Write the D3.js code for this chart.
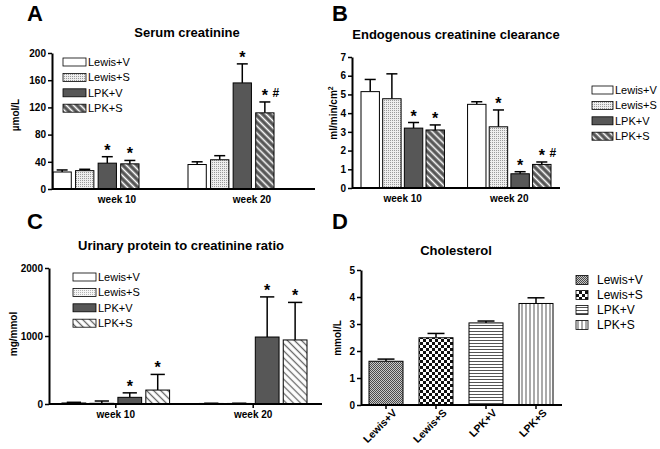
<!DOCTYPE html>
<html>
<head>
<meta charset="utf-8">
<script src="https://cdn.jsdelivr.net/npm/d3@7"></script>
<style>
  body { margin: 0; background: #fff; }
  svg { font-family: "Liberation Sans", Arial, sans-serif; }
  .axis .domain { stroke: #000; stroke-width: 2; }
  .axis .tick line { stroke: #000; stroke-width: 1.5; }
  .axis .tick text { font-size: 10px; font-weight: bold; fill: #000; }
</style>
</head>
<body>
<script>
// Four-panel figure: serum creatinine, clearance, UPCR, cholesterol

var WEEKS = ['week 10', 'week 20'];
var GROUPS = ['Lewis+V', 'Lewis+S', 'LPK+V', 'LPK+S'];

// A - serum creatinine (umol/L), rows = week
var serumMean = [[25, 27, 38, 37], [36, 43, 156, 112]];
var serumSem = [[3, 2, 9.5, 5], [4, 6, 28, 16]];
var serumMarks = [['', '', '*', '*'], ['', '', '*', '*#']];
var serumTicks = [0, 40, 80, 120, 160, 200];

// B - endogenous creatinine clearance (ml/min/cm2)
var clearMean = [[5.15, 4.77, 3.2, 3.1], [4.47, 3.27, 0.76, 1.26]];
var clearSem = [[0.65, 1.33, 0.3, 0.27], [0.14, 0.9, 0.11, 0.13]];
var clearMarks = [['', '', '*', '*'], ['', '*', '*', '*#']];
var clearTicks = [0, 1, 2, 3, 4, 5, 6, 7];

// C - urinary protein to creatinine ratio (mg/mmol)
var upcrMean = [[15, 10, 98, 205], [8, 8, 985, 942]];
var upcrSem = [[10, 34, 66, 230], [3, 3, 590, 552]];
var upcrMarks = [['', '', '*', '*'], ['', '', '*', '*']];
var upcrTicks = [0, 1000, 2000];

// D - cholesterol (mmol/L)
var cholMean = [1.62, 2.49, 3.04, 3.76];
var cholSem = [0.08, 0.16, 0.07, 0.21];
var cholTicks = [0, 1, 2, 3, 4, 5];

var svg = d3.select('body').append('svg')
    .attr('width', 660)
    .attr('height', 449);

// ============================================================================
// PATTERNS
// ============================================================================

var defs = svg.append('defs');

function dotPattern(id, bg, fg, size, cells) {
    var p = defs.append('pattern').attr('id', id)
        .attr('patternUnits', 'userSpaceOnUse')
        .attr('width', size).attr('height', size);
    p.append('rect').attr('width', size).attr('height', size).attr('fill', bg);
    cells.forEach(function(c) {
        p.append('rect').attr('x', c[0]).attr('y', c[1])
            .attr('width', c[2]).attr('height', c[2]).attr('fill', fg);
    });
}

function linePattern(id, bg, fg, gap, width, rotate) {
    var p = defs.append('pattern').attr('id', id)
        .attr('patternUnits', 'userSpaceOnUse')
        .attr('width', gap).attr('height', gap)
        .attr('patternTransform', 'rotate(' + rotate + ')');
    p.append('rect').attr('width', gap).attr('height', gap).attr('fill', bg);
    p.append('line').attr('x1', gap / 2).attr('x2', gap / 2)
        .attr('y1', 0).attr('y2', gap)
        .attr('stroke', fg).attr('stroke-width', width);
}

dotPattern('stipple', '#eeeeee', '#9a9a9a', 2, [[0, 0, 1]]);
dotPattern('stippleLight', '#f5f5f5', '#b4b4b4', 2, [[0, 0, 1]]);
dotPattern('fineDots', '#c8c8c8', '#4a4a4a', 2, [[0, 0, 1], [1, 1, 1]]);
dotPattern('checker', '#fff', '#111', 6, [[0, 0, 3], [3, 3, 3]]);
linePattern('hatchDark', '#555', '#fff', 5, 1.6, -45);
linePattern('hatchLight', '#fff', '#666', 5, 1.3, -45);
linePattern('hLines', '#fff', '#555', 3, 1, 90);
linePattern('vLines', '#fff', '#555', 4, 1, 0);

var FILLS_AB = ['#fff', 'url(#stipple)', '#575757', 'url(#hatchDark)'];
var FILLS_C = ['#fff', 'url(#stippleLight)', '#575757', 'url(#hatchLight)'];
var FILLS_D = ['url(#fineDots)', 'url(#checker)', 'url(#hLines)', 'url(#vLines)'];

// ============================================================================
// HELPERS
// ============================================================================

function drawYAxis(y, p) {
    return svg.append('g')
        .attr('class', 'axis')
        .attr('transform', 'translate(' + p.axisX + ',0)')
        .call(d3.axisLeft(y).tickValues(p.ticks).tickFormat(d3.format('d'))
            .tickSize(4).tickSizeOuter(0).tickPadding(2));
}

function drawBar(x, w, y, mean, sem, fill, capFrac) {
    var top = y(mean + sem);
    var cx = x + w / 2;
    svg.append('line')
        .attr('x1', cx).attr('x2', cx)
        .attr('y1', y(mean)).attr('y2', top)
        .attr('stroke', '#000').attr('stroke-width', 1.5);
    svg.append('line')
        .attr('x1', cx - w * capFrac / 2).attr('x2', cx + w * capFrac / 2)
        .attr('y1', top).attr('y2', top)
        .attr('stroke', '#000').attr('stroke-width', 1.5);
    svg.append('rect')
        .attr('x', x).attr('y', y(mean))
        .attr('width', w).attr('height', y(0) - y(mean))
        .attr('fill', fill)
        .attr('stroke', '#000').attr('stroke-width', 1);
    return top;
}

function drawMark(cx, capY, mark) {
    if (!mark) return;
    svg.append('text')
        .attr('x', cx).attr('y', capY + 1)
        .attr('text-anchor', 'middle')
        .style('font-size', '16px').style('font-weight', 'bold')
        .text('*');
    if (mark.indexOf('#') !== -1) {
        svg.append('text')
            .attr('x', cx + 11).attr('y', capY - 3)
            .attr('text-anchor', 'middle')
            .style('font-size', '12px').style('font-weight', 'bold')
            .text('#');
    }
}

function drawLegend(p, fills) {
    GROUPS.forEach(function(name, i) {
        var ly = p.legendY + i * p.legendStep;
        svg.append('rect')
            .attr('x', p.legendX).attr('y', ly - p.swatchH / 2)
            .attr('width', p.swatchW).attr('height', p.swatchH)
            .attr('fill', fills[i])
            .attr('stroke', '#000').attr('stroke-width', 0.8);
        svg.append('text')
            .attr('x', p.legendX + p.swatchW + p.legendGap).attr('y', ly + 4)
            .style('font-size', p.legendFont)
            .text(name);
    });
}

function drawTitles(p) {
    svg.append('text')
        .attr('x', p.letterX).attr('y', p.letterY)
        .style('font-size', '22px').style('font-weight', 'bold')
        .text(p.letter);
    svg.append('text')
        .attr('x', p.titleX).attr('y', p.titleY)
        .attr('text-anchor', 'middle')
        .style('font-size', '13px').style('font-weight', 'bold')
        .text(p.title);
    var yl = svg.append('text')
        .attr('transform', 'translate(' + p.yLabelX + ',' + p.yLabelY + ') rotate(-90)')
        .attr('text-anchor', 'middle')
        .style('font-size', '10px').style('font-weight', 'bold')
        .text(p.yLabel);
    if (p.yLabelSup) {
        yl.append('tspan').attr('dy', -4).style('font-size', '7px').text(p.yLabelSup);
    }
}

// ============================================================================
// GROUPED PANELS (A, B, C)
// ============================================================================

function drawGroupedPanel(p, mean, sem, marks, fills) {
    var x0 = d3.scaleBand().domain(WEEKS).range([p.x0, p.x1]).paddingInner(p.outerPad);
    var x1 = d3.scaleBand().domain(GROUPS).range([0, x0.bandwidth()]).paddingInner(p.innerPad);
    var y = d3.scaleLinear().domain([0, p.ticks[p.ticks.length - 1]]).range([p.yBase, p.yTop]);

    WEEKS.forEach(function(w, wi) {
        GROUPS.forEach(function(grp, gi) {
            var bx = x0(w) + x1(grp);
            var capY = drawBar(bx, x1.bandwidth(), y, mean[wi][gi], sem[wi][gi], fills[gi], 0.6);
            drawMark(bx + x1.bandwidth() / 2, capY - 2, marks[wi][gi]);
        });
        var gx = x0(w) + x0.bandwidth() / 2;
        if (p.xTicks) {
            svg.append('line')
                .attr('x1', gx).attr('x2', gx)
                .attr('y1', p.yBase).attr('y2', p.yBase + 4)
                .attr('stroke', '#000').attr('stroke-width', 1.5);
        }
        svg.append('text')
            .attr('x', gx + p.labelShift).attr('y', p.yBase + 14)
            .attr('text-anchor', 'middle')
            .style('font-size', '10px').style('font-weight', 'bold')
            .text(w);
    });

    drawYAxis(y, p);
    svg.append('line')
        .attr('x1', p.axisX).attr('x2', p.axisEnd)
        .attr('y1', p.yBase).attr('y2', p.yBase)
        .attr('stroke', '#000').attr('stroke-width', 2);

    drawLegend(p, fills);
    drawTitles(p);
}

drawGroupedPanel({
    letter: 'A', letterX: 27, letterY: 21,
    title: 'Serum creatinine', titleX: 187, titleY: 37,
    yLabel: 'µmol/L', yLabelX: 19, yLabelY: 115,
    ticks: serumTicks, axisX: 52, axisEnd: 315, yBase: 189, yTop: 53,
    x0: 53, x1: 274, outerPad: 0.363, innerPad: 0.19, labelShift: 21, xTicks: false,
    legendX: 63, legendY: 62, legendStep: 15.4, swatchW: 23, swatchH: 8, legendGap: 2, legendFont: '11px'
}, serumMean, serumSem, serumMarks, FILLS_AB);

drawGroupedPanel({
    letter: 'B', letterX: 332, letterY: 21,
    title: 'Endogenous creatinine clearance', titleX: 456, titleY: 39,
    yLabel: 'ml/min/cm', yLabelSup: '2', yLabelX: 337, yLabelY: 113,
    ticks: clearTicks, axisX: 352, axisEnd: 560, yBase: 188, yTop: 57,
    x0: 361, x1: 551, outerPad: 0.217, innerPad: 0.15, labelShift: 0, xTicks: false,
    legendX: 592, legendY: 90, legendStep: 15.4, swatchW: 21, swatchH: 8, legendGap: 2, legendFont: '11px'
}, clearMean, clearSem, clearMarks, FILLS_AB);

drawGroupedPanel({
    letter: 'C', letterX: 27, letterY: 229,
    title: 'Urinary protein to creatinine ratio', titleX: 181, titleY: 250,
    yLabel: 'mg/mmol', yLabelX: 17, yLabelY: 334,
    ticks: upcrTicks, axisX: 49, axisEnd: 322, yBase: 404, yTop: 268,
    x0: 62, x1: 307, outerPad: 0.217, innerPad: 0.15, labelShift: 0, xTicks: true,
    legendX: 73, legendY: 277, legendStep: 15.4, swatchW: 23, swatchH: 8, legendGap: 2, legendFont: '11px'
}, upcrMean, upcrSem, upcrMarks, FILLS_C);

// ============================================================================
// PANEL D (single group)
// ============================================================================

(function drawCholesterol() {
    var p = {
        letter: 'D', letterX: 332, letterY: 229,
        title: 'Cholesterol', titleX: 456, titleY: 255,
        yLabel: 'mmol/L', yLabelX: 341, yLabelY: 338,
        ticks: cholTicks, axisX: 361, axisEnd: 562, yBase: 405, yTop: 270,
        legendX: 576, legendY: 280, legendStep: 15, swatchW: 12, swatchH: 9, legendGap: 9, legendFont: '12px'
    };
    var x = d3.scaleBand().domain(GROUPS).range([369, 553]).paddingInner(0.32);
    var y = d3.scaleLinear().domain([0, 5]).range([p.yBase, p.yTop]);

    GROUPS.forEach(function(grp, i) {
        drawBar(x(grp), x.bandwidth(), y, cholMean[i], cholSem[i], FILLS_D[i], 0.5);
    });

    drawYAxis(y, p);
    svg.append('g')
        .attr('class', 'axis')
        .attr('transform', 'translate(0,' + p.yBase + ')')
        .call(d3.axisBottom(x).tickSize(4).tickSizeOuter(0))
        .call(function(g) {
            g.select('.domain').remove();
            g.selectAll('.tick text')
                .style('font-size', '10.5px')
                .attr('text-anchor', 'end')
                .attr('transform', 'translate(4,1) rotate(-45)')
                .attr('dy', '0.35em');
        });
    svg.append('line')
        .attr('x1', p.axisX).attr('x2', p.axisEnd)
        .attr('y1', p.yBase).attr('y2', p.yBase)
        .attr('stroke', '#000').attr('stroke-width', 2);

    drawLegend(p, FILLS_D);
    drawTitles(p);
})();
</script>
</body>
</html>
